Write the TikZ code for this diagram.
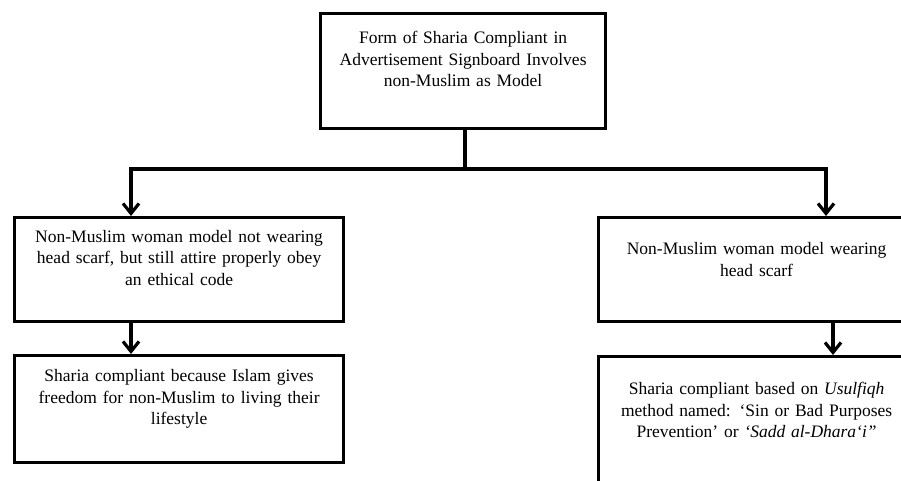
\documentclass[tikz,border=0pt]{standalone}
\usepackage{fontspec}
\setmainfont{Liberation Serif}
\usetikzlibrary{arrows.meta, positioning, calc}
\newcommand{\padtop}[1]{\rule{0pt}{#1}}
\newcommand{\padbot}[1]{\rule[-#1]{0pt}{#1}}

\begin{document}
\begin{tikzpicture}[
    x=1pt, y=-1pt,
    font=\fontsize{17.5}{21.5}\selectfont,
    box/.style={rectangle, draw, line width=3.2pt, inner sep=0pt, anchor=north west, align=center, text width=#1},
    line/.style={line width=3.2pt},
    arrow/.style={line width=3.2pt, -{Straight Barb[length=10pt,width=16pt]}}
]
    \useasboundingbox (0,0) rectangle (901,481);
    \clip (0,0) rectangle (901,481);

    \node[box=285pt] (form) at (319,12) {\padtop{30.3pt}Form of Sharia Compliant in\\ Advertisement Signboard Involves\\ non-Muslim as Model\padbot{41.3pt}};
    \node[box=329pt] (noscarf) at (13,216) {\padtop{24.7pt}Non-Muslim woman model not wearing\\ head scarf, but still attire properly obey\\ an ethical code\padbot{36.3pt}};
    \node[box=316pt] (scarf) at (597,216) {\padtop{37.3pt}Non-Muslim woman model wearing\\ head scarf\padbot{45pt}};
    \node[box=329pt] (freedom) at (13,354) {\padtop{26pt}Sharia compliant because Islam gives\\ freedom for non-Muslim to living their\\ lifestyle\padbot{38pt}};
    \node[box=316pt] (sadd) at (597,355) {\padtop{38.3pt}Sharia compliant based on \textit{Usulfiqh}\\ method named: ‘Sin or Bad Purposes\\ Prevention’ or \textit{‘Sadd al-Dhara‘i”}\padbot{80pt}};

    % connectors
    \coordinate (fork) at (465,169);
    \coordinate (lcol) at (131,0);
    \coordinate (rcol) at (826,0);
    \coordinate (rcol2) at (833,0);
    \draw[line] (form.south -| fork) -- (fork);
    \draw[arrow] (fork) -| (lcol |- noscarf.north);
    \draw[arrow] (fork) -| (rcol |- scarf.north);
    \draw[arrow] (lcol |- noscarf.south) -- (lcol |- freedom.north);
    \draw[arrow] (rcol2 |- scarf.south) -- (rcol2 |- sadd.north);
\end{tikzpicture}
\end{document}
